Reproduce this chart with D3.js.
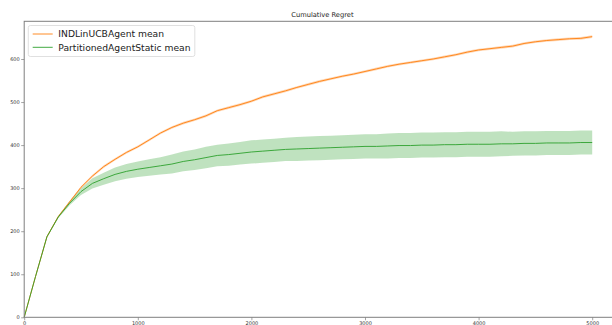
<!DOCTYPE html>
<html>
<head>
<meta charset="utf-8">
<script src="https://cdn.jsdelivr.net/npm/d3@7"></script>
<style>
  html, body { margin: 0; padding: 0; background: #fff; }
  svg { display: block; font-family: "DejaVu Sans", sans-serif; }
</style>
</head>
<body>
<svg id="chart" width="612" height="325"></svg>
<script>
// Time steps sampled every 100 rounds
const steps = d3.range(0, 5001, 100);

// INDLinUCBAgent: mean cumulative regret and spread
const indMean = [
  0, 95, 187, 234, 268, 302, 328, 350, 367, 383,
  396, 412, 428, 441, 451, 459, 468, 480, 487, 494,
  502, 512, 519, 526, 534, 541, 548, 554, 560, 565,
  571, 577, 583, 588, 592, 596, 600, 605, 610, 616,
  621, 624, 627, 630, 636, 640, 643, 645, 647, 648,
  652
];
const indStd = [
  0, 0.5, 1, 1.5, 2, 2.5, 3, 3, 3, 3,
  3, 3, 3, 3, 3, 3, 3, 3, 3, 3,
  3, 3, 3, 3, 3, 3, 3, 3, 3, 3,
  3, 3, 3, 3, 3, 3, 3, 3, 3, 3,
  3, 3, 3, 3, 3, 3, 3, 3, 3, 3,
  3
];

// PartitionedAgentStatic: mean cumulative regret and spread
const partMean = [
  0, 95, 187, 233, 265, 292, 311, 322, 332, 339,
  344, 348, 352, 356, 362, 366, 371, 376, 378, 381,
  384, 386, 388, 390, 391, 392, 393, 394, 395, 396,
  397, 397, 398, 399, 399, 400, 400, 401, 401, 402,
  402, 402, 403, 403, 404, 404, 405, 405, 405, 406,
  406
];
const partStd = [
  0, 1, 2, 3, 5, 8, 12, 14, 16, 17,
  18, 19, 20, 22, 23, 24, 25, 25, 26, 26,
  27, 27, 27, 27, 28, 28, 28, 28, 28, 28,
  28, 28, 29, 29, 29, 29, 29, 29, 29, 29,
  29, 29, 29, 28, 28, 28, 28, 28, 28, 28,
  28
];

const xTicks = [0, 1000, 2000, 3000, 4000, 5000];
const yTicks = [0, 100, 200, 300, 400, 500, 600];
const seriesNames = ["INDLinUCBAgent mean", "PartitionedAgentStatic mean"];
const seriesColors = ["#ff7f0e", "#2ca02c"];

const svg = d3.select("#chart");

const x = d3.scaleLinear().domain([0, 5250]).range([24.2, 620.6]);
const y = d3.scaleLinear().domain([0, 687.6]).range([317.3, 21.3]);

const series = [
  { mean: indMean, std: indStd, color: seriesColors[0], bandOpacity: 0.3 },
  { mean: partMean, std: partStd, color: seriesColors[1], bandOpacity: 0.3 }
];

const area = d3.area()
  .x(d => x(d.t))
  .y0(d => y(d.lo))
  .y1(d => y(d.hi));

const line = d3.line()
  .x(d => x(d.t))
  .y(d => y(d.m));

// Shaded bands first, then mean lines on top
series.forEach(s => {
  const pts = steps.map((t, i) => ({ t, m: s.mean[i], lo: s.mean[i] - s.std[i], hi: s.mean[i] + s.std[i] }));
  s.pts = pts;
  svg.append("path")
    .datum(pts)
    .attr("d", area)
    .attr("fill", s.color)
    .attr("fill-opacity", s.bandOpacity)
    .attr("stroke", "none");
});
series.forEach(s => {
  svg.append("path")
    .datum(s.pts)
    .attr("d", line)
    .attr("fill", "none")
    .attr("stroke", s.color)
    .attr("stroke-width", 0.9);
});

// Axes
const xAxis = d3.axisBottom(x).tickValues(xTicks).tickFormat(d3.format("d")).tickSize(3).tickPadding(1.5);
const yAxis = d3.axisLeft(y).tickValues(yTicks).tickFormat(d3.format("d")).tickSize(3).tickPadding(1.5);

const gx = svg.append("g").attr("transform", `translate(0,${y(0)})`).call(xAxis);
const gy = svg.append("g").attr("transform", `translate(${x(0)},0)`).call(yAxis);
[gx, gy].forEach(g => {
  g.select(".domain").remove();
  g.selectAll(".tick line").attr("stroke", "#666").attr("stroke-width", 0.6);
  g.selectAll(".tick text").attr("fill", "#333").attr("font-size", "5px")
    .attr("font-family", "DejaVu Sans, sans-serif");
});

// Frame of the plotting area
svg.append("rect")
  .attr("x", x(0)).attr("y", y(687.6))
  .attr("width", x(5250) - x(0)).attr("height", y(0) - y(687.6))
  .attr("fill", "none").attr("stroke", "#7f7f7f").attr("stroke-width", 1);

// Title
svg.append("text")
  .attr("x", (x(0) + x(5250)) / 2).attr("y", 16.5)
  .attr("text-anchor", "middle")
  .attr("font-size", "6.7px").attr("fill", "#222")
  .text("Cumulative Regret");

// Legend
const lg = svg.append("g");
lg.append("rect")
  .attr("x", 28.3).attr("y", 25.5).attr("width", 166.5).attr("height", 31)
  .attr("rx", 2).attr("fill", "#fff").attr("fill-opacity", 0.8)
  .attr("stroke", "#d8d8d8").attr("stroke-width", 0.8);
seriesNames.forEach((name, i) => {
  const cy = 34 + i * 13.3;
  lg.append("line")
    .attr("x1", 32.7).attr("x2", 52.7).attr("y1", cy).attr("y2", cy)
    .attr("stroke", seriesColors[i]).attr("stroke-width", 0.9);
  lg.append("text")
    .attr("x", 58.3).attr("y", cy).attr("dy", "0.35em")
    .attr("font-size", "9.2px").attr("fill", "#222")
    .text(name);
});
</script>
</body>
</html>
